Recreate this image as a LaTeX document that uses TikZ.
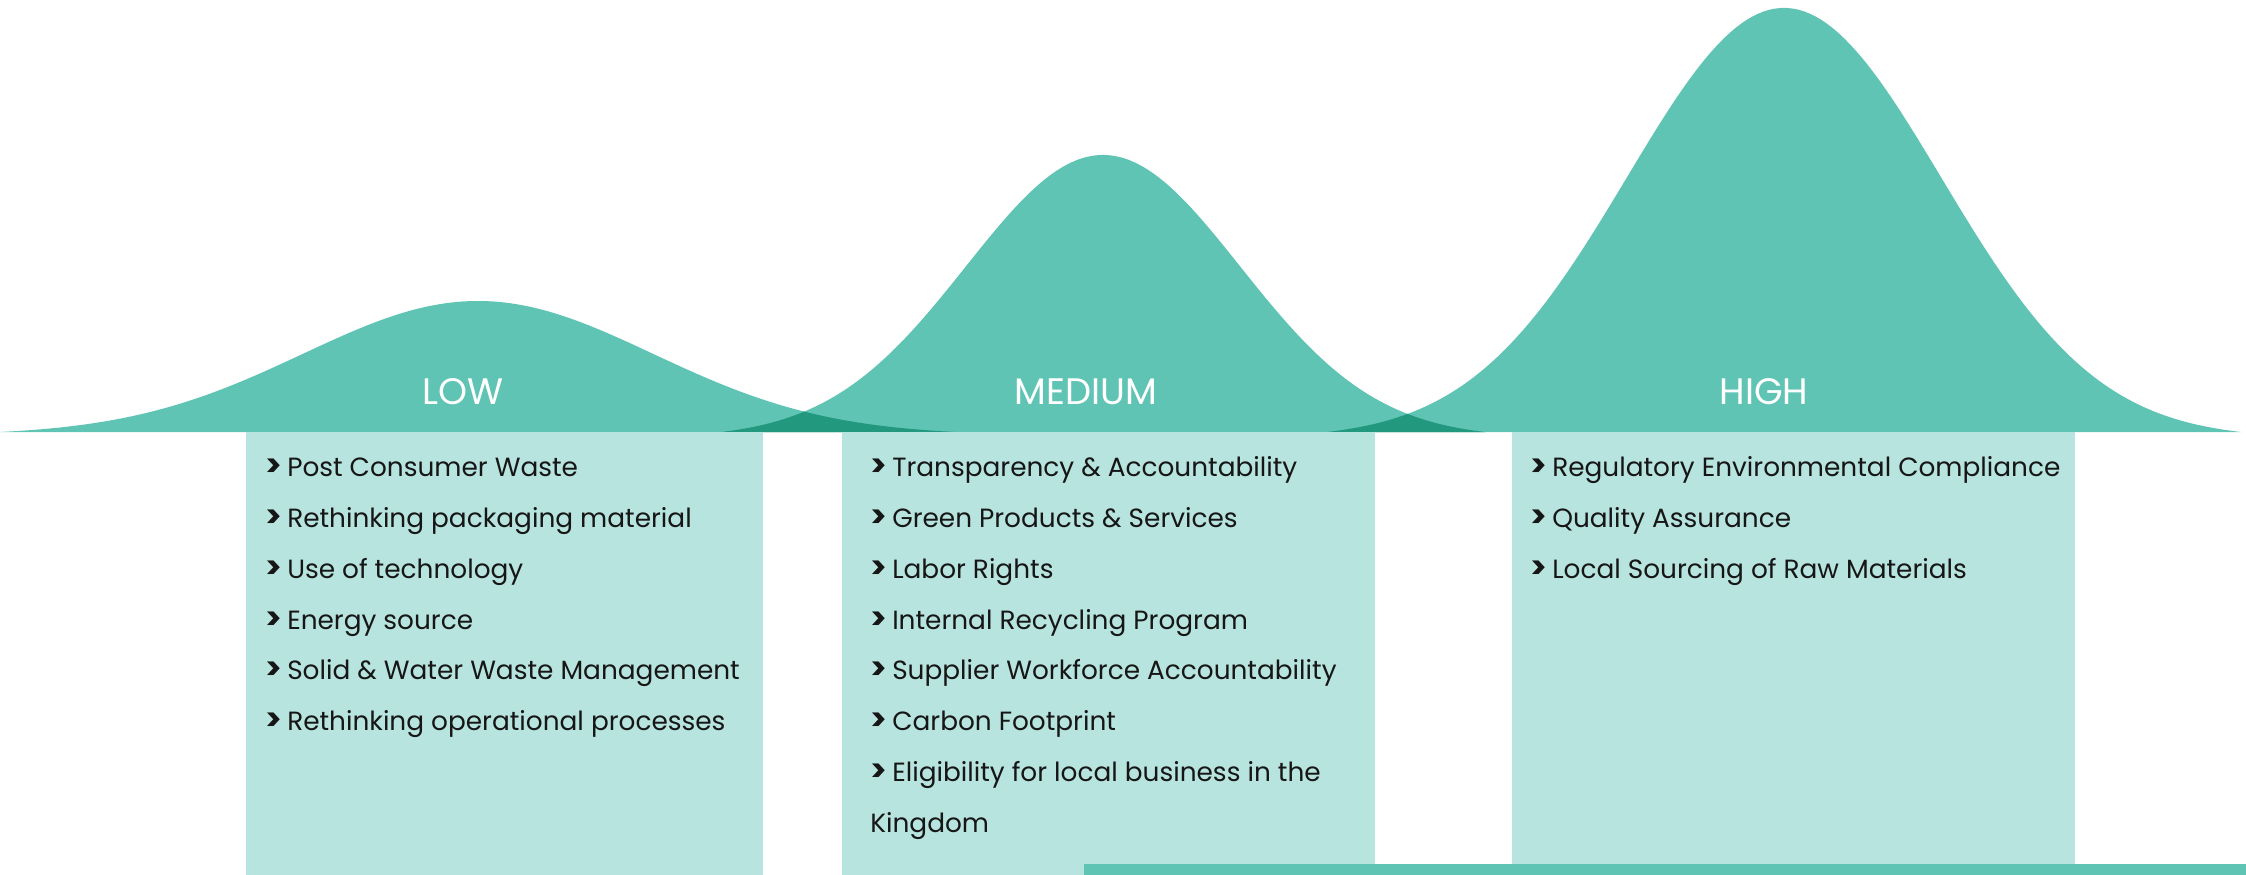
\documentclass[tikz,border=0pt]{standalone}
\usepackage{fontspec}
\setmainfont{Poppins}
\definecolor{bellgreen}{HTML}{60C4B4}
\definecolor{overlapgreen}{HTML}{22987F}
\definecolor{listbg}{HTML}{B7E4DE}
\definecolor{listtext}{HTML}{161616}

% bell shapes, in pixel units (y grows downwards)
\newcommand{\lowbell}{plot[domain=0:956,samples=160] (\x,{432-bell(\x,478,131,175,478)}) -- cycle}
\newcommand{\medbell}{plot[domain=721:1485,samples=160] (\x,{432-bell(\x,1103,277,137,382)}) -- cycle}
\newcommand{\highbell}{plot[domain=1327:2241,samples=160] (\x,{432-bell(\x,1784,424,157,457)}) -- cycle}
\newcommand{\bullitem}{{\fontsize{17.5}{18}\selectfont\textbf{>}}\hspace{0.2em}}

\begin{document}
\begin{tikzpicture}[x=0.02cm,y=-0.02cm,
    declare function={bell(\bx,\bc,\bh,\bs,\bw)=\bh*(exp(-0.5*((\bx-\bc)/\bs)^2)-exp(-0.5*(\bw/\bs)^2))/(1-exp(-0.5*(\bw/\bs)^2));},
    level/.style={anchor=base,inner sep=0pt,text=white,font=\fontsize{21}{24}\selectfont},
    item/.style={anchor=base west,inner sep=0pt,text=listtext,font=\fontsize{15}{18}\selectfont}]
    \useasboundingbox (0,0) rectangle (2246,875);

    % Bells
    \fill[bellgreen] \lowbell;
    \fill[bellgreen] \medbell;
    \fill[bellgreen] \highbell;
    % Overlaps
    \begin{scope}
        \clip \lowbell;
        \fill[overlapgreen] \medbell;
    \end{scope}
    \begin{scope}
        \clip \medbell;
        \fill[overlapgreen] \highbell;
    \end{scope}

    % List panels
    \fill[listbg] (246,432) rectangle (763,875);
    \fill[listbg] (842,432) rectangle (1375,875);
    \fill[listbg] (1512,432) rectangle (2075,864);
    \fill[bellgreen] (1084,864) rectangle (2246,875); % bottom bar

    % Levels
    \node[level] (low) at (463,404) {LOW};
    \node[level] (medium) at (1086,404) {MEDIUM};
    \node[level] (high) at (1764,404) {HIGH};

    % Items
    \foreach \t [count=\i] in {Post Consumer Waste, Rethinking packaging material, Use of technology, Energy source, Solid \& Water Waste Management, Rethinking operational processes}
        \node[item] (low\i) at (265,{476.7+50.8*(\i-1)}) {\bullitem\t};
    \foreach \t [count=\i] in {Transparency \& Accountability, Green Products \& Services, Labor Rights, Internal Recycling Program, Supplier Workforce Accountability, Carbon Footprint, Eligibility for local business in the}
        \node[item] (med\i) at (870,{476.7+50.8*(\i-1)}) {\bullitem\t};
    \node[item] (med8) at (870,832) {Kingdom};
    \foreach \t [count=\i] in {Regulatory Environmental Compliance, Quality Assurance, Local Sourcing of Raw Materials}
        \node[item] (high\i) at (1530,{476.7+50.8*(\i-1)}) {\bullitem\t};
\end{tikzpicture}
\end{document}
